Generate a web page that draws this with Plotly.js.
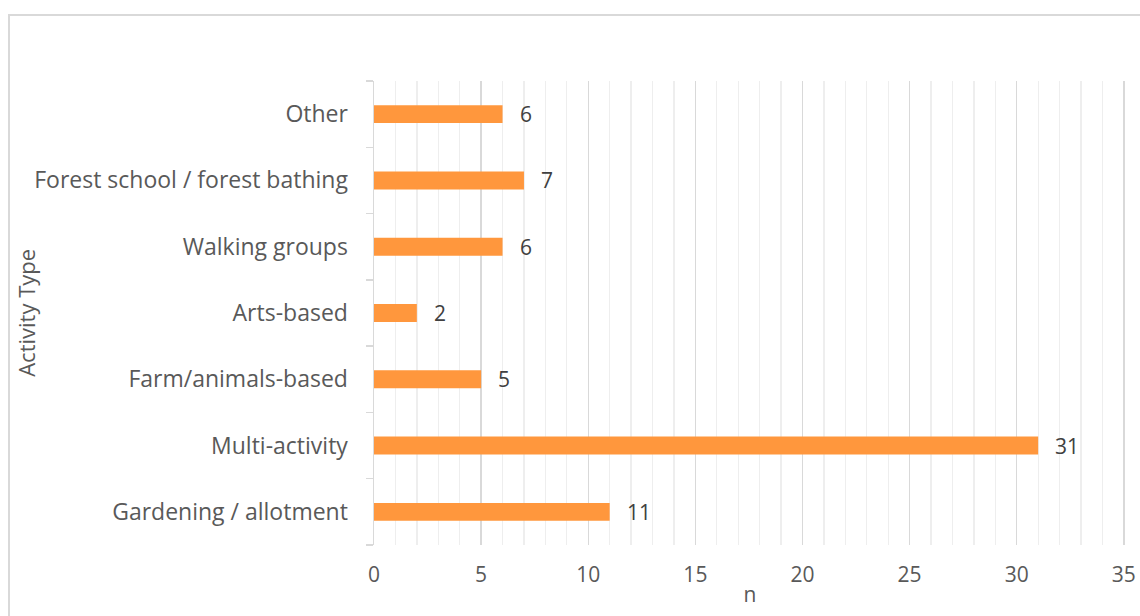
<!DOCTYPE html>
<html>
<head>
<meta charset="utf-8">
<script src="https://cdn.plot.ly/plotly-3.0.1.min.js"></script>
<style>
html,body{margin:0;padding:0;background:#fff;}
#frame{position:absolute;left:8px;top:14px;width:1200px;height:700px;border:2px solid #d9d9d9;box-sizing:border-box;}
#chart{position:absolute;left:0;top:0;width:1140px;height:616px;}
</style>
</head>
<body>
<div id="frame"></div>
<div id="chart"></div>
<script>
const categories = ["Gardening / allotment","Multi-activity","Farm/animals-based","Arts-based","Walking groups","Forest school / forest bathing","Other"];
const counts = [11, 31, 5, 2, 6, 7, 6];
const xTickVals = [0,5,10,15,20,25,30,35];
const xTitle = "n";
const yTitle = "Activity Type";

const font = "Open Sans, sans-serif";
const trace = {
  type: "bar",
  orientation: "h",
  x: counts,
  y: categories,
  marker: {color: "#ff973d"},
  width: 0.27,
  hoverinfo: "x+y"
};

const labels = categories.map((c, i) => ({
  x: counts[i], y: c, xref: "x", yref: "y",
  text: String(counts[i]), showarrow: false,
  xanchor: "left", xshift: 15,
  font: {family: font, size: 21, color: "#404040"}
}));

labels.push({
  xref: "paper", yref: "paper", x: -0.463, y: 0.5,
  text: yTitle, textangle: -90, showarrow: false,
  xanchor: "center", yanchor: "middle",
  font: {family: font, size: 22, color: "#595959"}
});

const layout = {
  width: 1140, height: 616,
  margin: {l: 374, r: 14, t: 81, b: 71},
  paper_bgcolor: "rgba(0,0,0,0)",
  plot_bgcolor: "rgba(0,0,0,0)",
  showlegend: false,
  bargap: 0.73,
  xaxis: {
    range: [0, 35.1],
    tickvals: xTickVals,
    showgrid: true, gridcolor: "#d9d9d9", gridwidth: 1.5,
    minor: {dtick: 1, showgrid: true, gridcolor: "#eeeeee", gridwidth: 1.3},
    zeroline: false, showline: false, ticks: "",
    ticklabelstandoff: 15,
    tickfont: {family: font, size: 21, color: "#595959"},
    title: {text: xTitle, standoff: 0, font: {family: font, size: 21, color: "#595959"}},
    fixedrange: true
  },
  yaxis: {
    type: "category",
    categoryorder: "array", categoryarray: categories,
    showline: true, linecolor: "#d9d9d9", linewidth: 1.5,
    ticks: "outside", tickson: "boundaries", ticklen: 7, tickcolor: "#d9d9d9", tickwidth: 1.5,
    showgrid: false, zeroline: false,
    ticklabelstandoff: 20,
    tickfont: {family: font, size: 23, color: "#595959"},
    fixedrange: true
  },
  annotations: labels
};

Plotly.newPlot("chart", [trace], layout, {displayModeBar: false, staticPlot: true});
</script>
</body>
</html>
